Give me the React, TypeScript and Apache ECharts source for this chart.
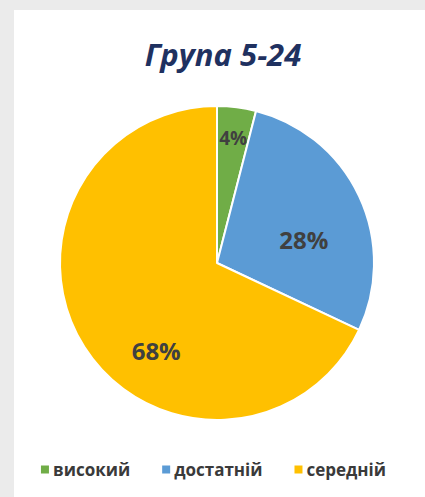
import React, { useEffect, useRef } from "react";
import * as echarts from "echarts";

const titleText = "Група 5-24";
const categories = ["високий", "достатній", "середній"];
const values = [4, 28, 68];
const colors = ["#70ad47", "#5b9bd5", "#ffc000"];
const labelSizes = [19, 24, 24];
// label nudges (dx, dy) from the default inside position, per slice
const labelShift = [
  [6, -44],
  [13, 11],
  [8, 44],
];

export default function App() {
  const ref = useRef<HTMLDivElement>(null);
  useEffect(() => {
    document.body.style.margin = "0";
    const chart = echarts.init(ref.current!, null, { renderer: "svg" });
    chart.setOption({
      animation: false,
      backgroundColor: "#ebebeb",
      graphic: [
        {
          type: "rect",
          shape: { x: 14, y: 10, width: 411, height: 487 },
          style: { fill: "#ffffff" },
          z: -10,
        },
      ],
      title: {
        text: titleText,
        left: 218,
        textAlign: "center",
        top: 33,
        textStyle: {
          fontFamily: "Open Sans",
          fontWeight: "bold",
          fontStyle: "italic",
          fontSize: 31,
          color: "#1f3160",
        },
      },
      legend: {
        data: categories,
        left: "center",
        top: 461,
        padding: 0,
        icon: "rect",
        itemWidth: 10,
        itemHeight: 10,
        itemGap: 30,
        textStyle: {
          fontFamily: "Open Sans",
          fontWeight: "bold",
          fontSize: 17,
          color: "#3a3a3a",
          padding: [0, 0, 0, -2],
        },
      },
      series: [
        {
          type: "pie",
          center: [217, 263],
          radius: 157,
          startAngle: 90,
          clockwise: true,
          data: categories.map((c, i) => ({
            name: c,
            value: values[i],
            itemStyle: { color: colors[i] },
            label: { fontSize: labelSizes[i] },
          })),
          itemStyle: { borderColor: "#ffffff", borderWidth: 2 },
          label: {
            show: true,
            position: "inside",
            formatter: "{c}%",
            fontFamily: "Open Sans",
            fontWeight: "bold",
            color: "#404040",
          },
          labelLine: { show: false },
          labelLayout: (p: any) => ({
            dx: labelShift[p.dataIndex][0],
            dy: labelShift[p.dataIndex][1],
          }),
          emphasis: { disabled: true },
        },
      ],
    });
    return () => chart.dispose();
  }, []);
  return <div ref={ref} style={{ width: 425, height: 497 }} />;
}
